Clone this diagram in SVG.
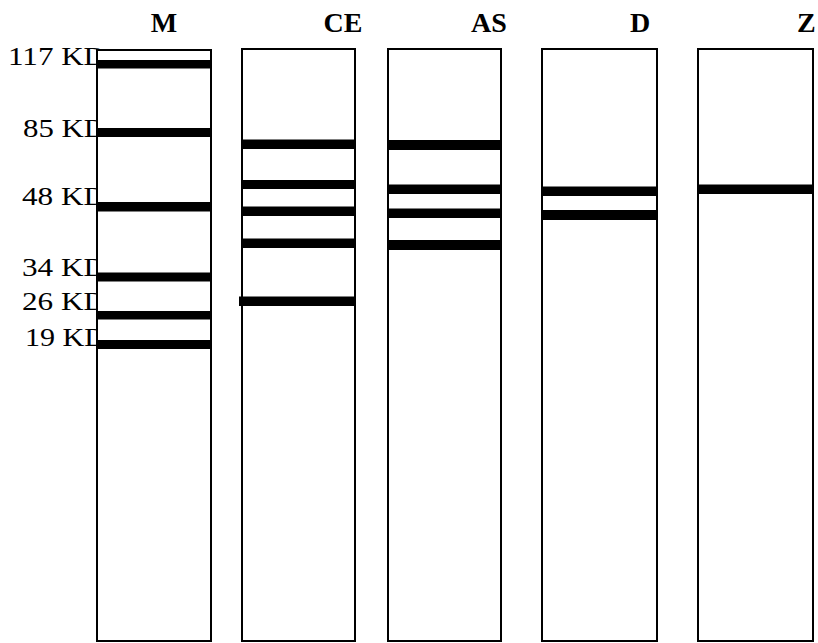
<svg xmlns="http://www.w3.org/2000/svg" width="818" height="643" viewBox="0 0 818 643">
<style>
.lane{fill:#fff;stroke:#000;stroke-width:2}
.band{fill:#000}
.mw{font-family:"Liberation Serif","Times New Roman",serif;font-size:26px;fill:#000}
.ln{font-family:"Liberation Serif","Times New Roman",serif;font-size:28px;font-weight:bold;fill:#000}
</style>
<rect width="818" height="643" fill="#fff"/>
<g id="markers">
<text class="mw" x="8" y="65" textLength="98" lengthAdjust="spacingAndGlyphs">117 KD</text>
<text class="mw" x="23" y="137" textLength="83" lengthAdjust="spacingAndGlyphs">85 KD</text>
<text class="mw" x="22" y="205" textLength="84" lengthAdjust="spacingAndGlyphs">48 KD</text>
<text class="mw" x="22" y="276" textLength="84" lengthAdjust="spacingAndGlyphs">34 KD</text>
<text class="mw" x="22" y="310" textLength="84" lengthAdjust="spacingAndGlyphs">26 KD</text>
<text class="mw" x="25" y="346" textLength="81" lengthAdjust="spacingAndGlyphs">19 KD</text>
</g>
<g id="lane-M">
<text class="ln" x="164" y="32" text-anchor="middle">M</text>
<rect class="lane" x="97" y="50" width="114" height="591"/>
<rect class="band" x="97" y="60" width="114" height="8.5"/>
<rect class="band" x="97" y="128" width="114" height="9"/>
<rect class="band" x="97" y="202" width="114" height="9.5"/>
<rect class="band" x="97" y="272.5" width="114" height="9"/>
<rect class="band" x="97" y="311" width="114" height="8.5"/>
<rect class="band" x="97" y="340" width="114" height="9"/>
</g>
<g id="lane-CE">
<text class="ln" x="343" y="32" text-anchor="middle">CE</text>
<rect class="lane" x="242" y="49" width="113" height="592"/>
<rect class="band" x="242" y="139.5" width="113" height="9.5"/>
<rect class="band" x="242" y="180" width="113" height="9"/>
<rect class="band" x="242" y="206.5" width="113" height="9.5"/>
<rect class="band" x="242" y="238.5" width="113" height="9.5"/>
<rect class="band" x="239" y="296.5" width="116" height="9.5"/>
</g>
<g id="lane-AS">
<text class="ln" x="489" y="32" text-anchor="middle">AS</text>
<rect class="lane" x="388" y="49" width="113" height="592"/>
<rect class="band" x="388" y="140" width="113" height="10"/>
<rect class="band" x="388" y="184.5" width="113" height="9.5"/>
<rect class="band" x="388" y="208.5" width="113" height="9.5"/>
<rect class="band" x="388" y="240" width="113" height="10"/>
</g>
<g id="lane-D">
<text class="ln" x="640" y="32" text-anchor="middle">D</text>
<rect class="lane" x="542" y="49" width="115" height="592"/>
<rect class="band" x="542" y="186.5" width="115" height="9.5"/>
<rect class="band" x="542" y="210" width="115" height="10"/>
</g>
<g id="lane-Z">
<text class="ln" x="797" y="32">Z</text>
<rect class="lane" x="698" y="49" width="115" height="592"/>
<rect class="band" x="698" y="184.5" width="115" height="9.5"/>
</g>
<g id="connectors"/>
</svg>
